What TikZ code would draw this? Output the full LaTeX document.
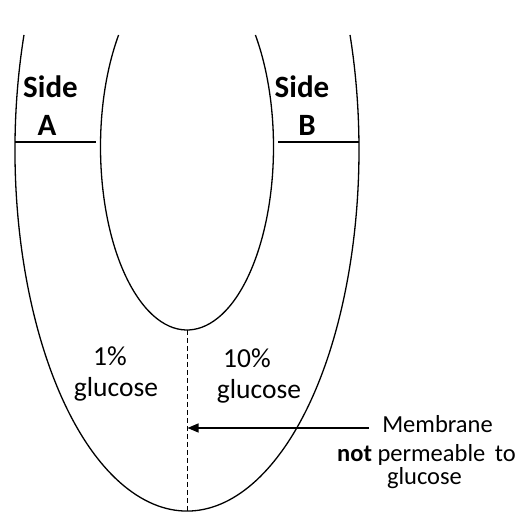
\documentclass[tikz,border=0pt]{standalone}
\usepackage{fontspec}
\setmainfont{Carlito}
\usetikzlibrary{arrows.meta}
\begin{document}
\begin{tikzpicture}[x=1pt,y=1pt,
  wall/.style={line width=1.3pt,black},
  sidelbl/.style={font=\fontsize{31}{31}\selectfont\bfseries,anchor=base,inner sep=0pt},
  conc/.style={font=\fontsize{27.5}{27.5}\selectfont,anchor=base,inner sep=0pt},
  memb/.style={font=\fontsize{24.5}{24.5}\selectfont,anchor=base,inner sep=0pt}]
\useasboundingbox (0,0) rectangle (525,521);
% outer U (ellipse centre (187,371), rx 172, ry 361)
\draw[wall] (187,371) ++(161.42:172 and 361) arc[start angle=161.42,end angle=378.58,x radius=172,y radius=361];
% inner U (ellipse centre (187,374), rx 86.5, ry 183)
\draw[wall] (187,374) ++(142.26:86.5 and 183) arc[start angle=142.26,end angle=397.74,x radius=86.5,y radius=183];
% level lines
\coordinate (la) at (15,379); \coordinate (lb) at (96,379);
\coordinate (ra) at (278,379); \coordinate (rb) at (358.5,379);
\draw[line width=1.1pt] (la) -- (lb);
\draw[line width=1.1pt] (ra) -- (rb);
% membrane
\coordinate (mtop) at (187,191); \coordinate (mbot) at (187,10);
\draw[line width=1pt,dash pattern=on 5pt off 3pt] (mtop) -- (mbot);
\coordinate (tip) at (187.5,93); \coordinate (tail) at (369,93);
\draw[line width=1.3pt,-{Triangle[length=11pt,width=9pt]}] (tail) -- (tip);
% labels
\node[sidelbl] (sa) at (50.5,423) {Side};
\node[sidelbl] (a) at (47,385) {A};
\node[sidelbl] (sb) at (302,423) {Side};
\node[sidelbl] (b) at (307,385) {B};
\node[conc] (c1) at (110,155) {1\%};
\node[conc] (g1) at (116,124) {glucose};
\node[conc] (c2) at (247,153) {10\%};
\node[conc] (g2) at (259,122) {glucose};
\node[memb] (m1) at (437.5,88) {Membrane};
\node[memb] (m2) at (426.5,59) {\textbf{not} permeable\, to};
\node[memb] (m3) at (424.5,36) {glucose};
\end{tikzpicture}
\end{document}
